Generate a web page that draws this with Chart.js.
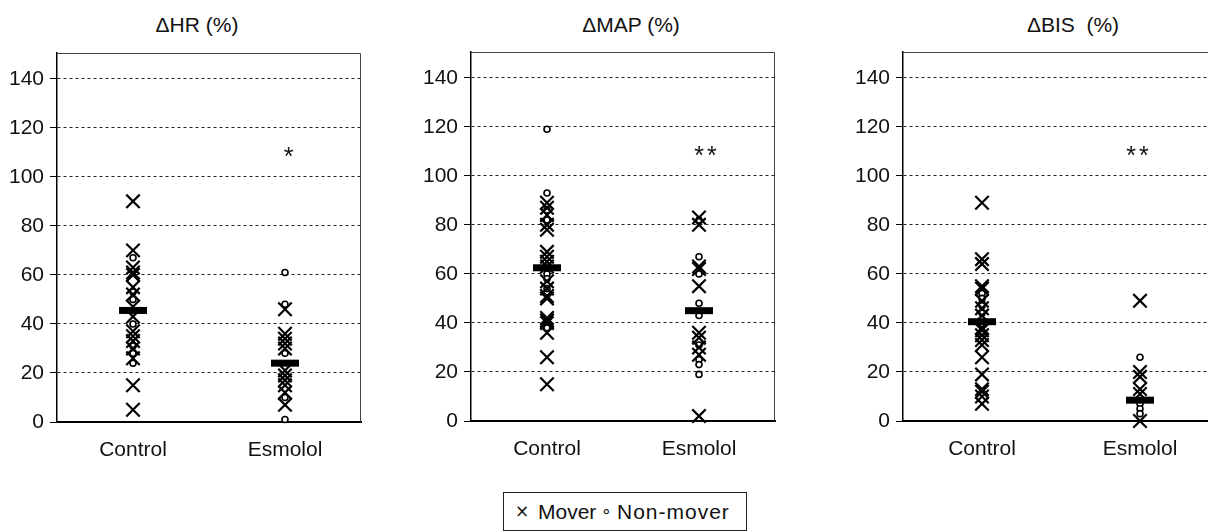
<!DOCTYPE html>
<html>
<head>
<meta charset="utf-8">
<script src="https://cdn.jsdelivr.net/npm/chart.js@4/dist/chart.umd.min.js"></script>
<style>
  html, body { margin: 0; padding: 0; background: #fff; }
  body { position: relative; width: 1208px; height: 532px; overflow: hidden; font-family: "Liberation Sans", Arial, sans-serif; }
  canvas { position: absolute; top: 0; }
  .title { position: absolute; top: 13px; width: 240px; text-align: center; font-size: 21px; line-height: 24px; color: #111; white-space: pre; }
  #legend { position: absolute; left: 503px; top: 492px; width: 242px; height: 37px; border: 1px solid #222; font-size: 21px; line-height: 37px; color: #111; white-space: pre; }
  #legend span { position: absolute; top: 0; }
  #legend .glyph { font-family: "DejaVu Sans", "Liberation Sans", sans-serif; }
</style>
</head>
<body>
<div class="title" id="t0"></div>
<div class="title" id="t1"></div>
<div class="title" id="t2"></div>
<canvas id="c0" width="400" height="480"></canvas>
<canvas id="c1" width="420" height="480"></canvas>
<canvas id="c2" width="400" height="480"></canvas>
<div id="legend"></div>
<script>
// ---------- data ----------
const categories = ['Control', 'Esmolol'];
const seriesNames = ['Mover', 'Non-mover'];
const legendGlyphs = ['\u00D7', '\u2218'];
const panelTitles = ['\u0394HR (%)', '\u0394MAP (%)', '\u0394BIS  (%)'];
const yTicks = [0, 20, 40, 60, 80, 100, 120, 140];
const sigLabels = ['*', '**', '**'];
const sigValue = 110;

// ΔHR
const hrControlMover    = [90, 70, 63, 61, 60, 55, 52, 47, 43, 37, 35, 33, 30, 26, 15, 5];
const hrControlNonMover = [67, 53, 50, 40, 31, 28, 24];
const hrEsmololMover    = [46, 36, 34, 32, 30, 21, 19, 17, 15, 12, 7];
const hrEsmololNonMover = [61, 48, 28, 10, 1];
const hrMeans = [45.5, 24];

// ΔMAP
const mapControlMover    = [89, 87, 84, 80, 78, 69, 67, 65, 63, 57, 54, 51, 50, 42, 41, 40, 36, 26, 15];
const mapControlNonMover = [119, 93, 86, 82, 60, 58, 54, 38];
const mapEsmololMover    = [83, 80, 63, 62, 55, 36, 34, 30, 27, 2];
const mapEsmololNonMover = [82, 67, 60, 48, 43, 31, 25, 23, 19];
const mapMeans = [62.5, 45];

// ΔBIS
const bisControlMover    = [89, 66, 64, 55, 54, 49, 46, 43, 38, 37, 35, 33, 31, 26, 19, 13, 12, 10, 7];
const bisControlNonMover = [52, 50, 48, 47, 44, 39, 36];
const bisEsmololMover    = [49, 20, 18, 13, 11, 0];
const bisEsmololNonMover = [26, 7, 5, 3];
const bisMeans = [40.5, 8.5];

// ---------- layout (positions / styles only) ----------
const yMax = 150.5;
const FONT = '"Liberation Sans", Arial, sans-serif';
const panels = [
  { canvas: 'c0', left: 0,   width: 400, height: 480, top: 53, bottom: 422, plotLeft: 57, plotRight: 361, titleX: 197,  sigNudge: 5,
    mover: [hrControlMover, hrEsmololMover], nonMover: [hrControlNonMover, hrEsmololNonMover], means: hrMeans },
  { canvas: 'c1', left: 410, width: 420, height: 480, top: 52, bottom: 421, plotLeft: 61, plotRight: 365, titleX: 631,  sigNudge: 8,
    mover: [mapControlMover, mapEsmololMover], nonMover: [mapControlNonMover, mapEsmololNonMover], means: mapMeans },
  { canvas: 'c2', left: 840, width: 400, height: 480, top: 52, bottom: 421, plotLeft: 63, plotRight: 381, titleX: 1073, sigNudge: -1,
    mover: [bisControlMover, bisEsmololMover], nonMover: [bisControlNonMover, bisEsmololNonMover], means: bisMeans }
];

function pts(lists) {
  const out = [];
  lists.forEach((arr, i) => arr.forEach(v => out.push({ x: categories[i], y: v })));
  return out;
}

const framePlugin = {
  id: 'frame',
  afterDraw(chart) {
    const { ctx, chartArea: a } = chart;
    ctx.save();
    ctx.strokeStyle = '#444';
    ctx.lineWidth = 1;
    ctx.beginPath();
    ctx.moveTo(a.left, a.top + 0.5);
    ctx.lineTo(a.right - 0.5, a.top + 0.5);
    ctx.lineTo(a.right - 0.5, a.bottom);
    ctx.stroke();
    ctx.restore();
  }
};

const sigPlugin = {
  id: 'sig',
  afterDatasetsDraw(chart, args, opts) {
    const { ctx } = chart;
    const xs = chart.scales.x, ys = chart.scales.y;
    const size = 25;
    ctx.save();
    ctx.fillStyle = '#111';
    ctx.font = size + 'px ' + FONT;
    ctx.textAlign = 'center';
    ctx.textBaseline = 'middle';
    try { ctx.letterSpacing = '3px'; } catch (e) {}
    const x = xs.getPixelForValue(1) + opts.nudge;
    const y = ys.getPixelForValue(sigValue) + size * 0.24;
    ctx.fillText(opts.text, x, y);
    ctx.restore();
  }
};

panels.forEach((p, i) => {
  const cv = document.getElementById(p.canvas);
  cv.style.left = p.left + 'px';
  const t = document.getElementById('t' + i);
  t.textContent = panelTitles[i];
  t.style.left = (p.titleX - 120) + 'px';

  new Chart(cv, {
    type: 'line',
    data: {
      datasets: [
        { label: 'mean', data: p.means.map((v, k) => ({ x: categories[k], y: v })),
          showLine: false, pointStyle: 'line', pointRadius: 14, pointBorderWidth: 7,
          pointBorderColor: '#000', pointBackgroundColor: '#000', order: 0, clip: false },
        { label: seriesNames[0], data: pts(p.mover),
          showLine: false, pointStyle: 'crossRot', pointRadius: 9.5, pointBorderWidth: 2.2,
          pointBorderColor: '#000', pointBackgroundColor: '#000', order: 1, clip: false },
        { label: seriesNames[1], data: pts(p.nonMover),
          showLine: false, pointStyle: 'circle', pointRadius: 3, pointBorderWidth: 1.6,
          pointBorderColor: '#000', pointBackgroundColor: '#fff', order: 2, clip: false }
      ]
    },
    options: {
      responsive: false,
      animation: false,
      events: [],
      layout: { padding: { top: p.top, left: 0, bottom: 0, right: p.width - p.plotRight } },
      plugins: {
        legend: { display: false },
        tooltip: { enabled: false },
        title: { display: false },
        sig: { text: sigLabels[i], nudge: p.sigNudge }
      },
      scales: {
        x: {
          type: 'category',
          labels: categories,
          offset: true,
          grid: { display: false, drawTicks: false },
          border: { display: true, color: '#000', width: 2 },
          ticks: { font: { family: FONT, size: 21 }, color: '#111', padding: 16, maxRotation: 0 },
          afterFit: s => { s.height = p.height - p.bottom; }
        },
        y: {
          min: 0,
          max: yMax,
          afterBuildTicks: s => { s.ticks = yTicks.map(v => ({ value: v })); },
          grid: { color: '#222', lineWidth: 1, tickLength: 7, tickBorderDash: [], tickColor: '#000' },
          border: { display: true, color: '#000', width: 1.5, dash: [3, 3] },
          ticks: { font: { family: FONT, size: 21 }, color: '#111', padding: 6 },
          afterFit: s => { s.width = p.plotLeft; }
        }
      }
    },
    plugins: [framePlugin, sigPlugin]
  });
});

// legend (HTML, built from the series names)
const lg = document.getElementById('legend');
const lgPos = [[11, 34], [97, 113]];
seriesNames.forEach((name, k) => {
  const g = document.createElement('span');
  g.className = 'glyph';
  g.textContent = legendGlyphs[k];
  g.style.left = lgPos[k][0] + 'px';
  g.style.fontSize = '17px';
  lg.appendChild(g);
  const s = document.createElement('span');
  s.textContent = name;
  s.style.left = lgPos[k][1] + 'px';
  if (k === 1) s.style.letterSpacing = '1px';
  lg.appendChild(s);
});
</script>
</body>
</html>
